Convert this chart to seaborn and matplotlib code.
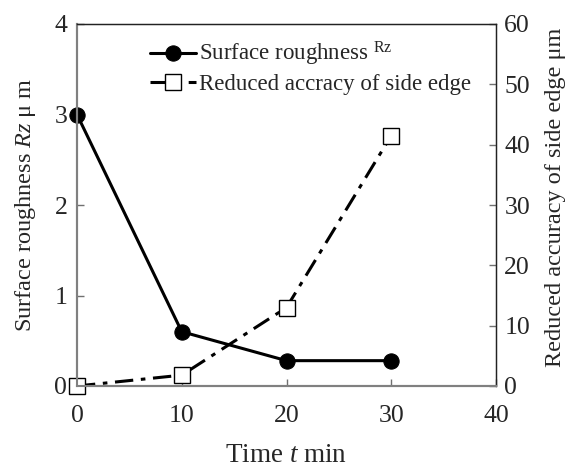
import matplotlib
matplotlib.use("Agg")
import matplotlib.pyplot as plt
import seaborn as sns
import pandas as pd

# Machining time (min)
time_min = [0, 10, 20, 30]
# Surface roughness Rz (um)
roughness_rz = [3.0, 0.6, 0.28, 0.28]
# Reduced accuracy of the side edge (um)
edge_accuracy = [0.0, 1.8, 13.0, 41.5]

x_ticks = [0, 10, 20, 30, 40]
left_ticks = [0, 1, 2, 3, 4]
right_ticks = [0, 10, 20, 30, 40, 50, 60]

sns.set_style("ticks")
plt.rcParams["font.family"] = ["Liberation Serif", "DejaVu Serif"]
plt.rcParams["mathtext.fontset"] = "custom"
plt.rcParams["mathtext.rm"] = "Liberation Serif"
plt.rcParams["mathtext.it"] = "Liberation Serif:italic"

df = pd.DataFrame({"t": time_min, "rz": roughness_rz, "edge": edge_accuracy})

fig = plt.figure(figsize=(5.77, 4.67), dpi=100)
ax = fig.add_axes([77 / 577, 1 - 386 / 467, 419 / 577, 362 / 467])
ax2 = ax.twinx()

sns.lineplot(data=df, x="t", y="rz", ax=ax, color="black", lw=2.2,
             marker="o", markersize=11, markeredgecolor="black",
             label="Surface roughness $^{\\mathrm{Rz}}$", legend=False)
sns.lineplot(data=df, x="t", y="edge", ax=ax2, color="black", lw=2.2,
             linestyle=(0, (6, 2.5, 1.5, 2.5)),
             marker="s", markersize=11, markerfacecolor="white",
             markeredgecolor="black", markeredgewidth=1.0,
             label="Reduced accracy of side edge", legend=False)
for line in ax.lines + ax2.lines:
    line.set_clip_on(False)

ax.set_xlim(0, 40)
ax.set_ylim(0, 4)
ax2.set_ylim(0, 60)
ax.set_xticks(x_ticks)
ax.set_yticks(left_ticks)
ax2.set_yticks(right_ticks)

ax.set_xlabel("Time $\\mathit{t}$ min", fontsize=19.5, labelpad=11)
ax.set_ylabel("Surface roughness $\\mathit{Rz}$ μ m", fontsize=17.5, labelpad=12)
ax2.set_ylabel("Reduced accuracy of side edge μm", fontsize=17.5)
ax2.yaxis.set_label_coords(1.118, 0.52)

for a in (ax, ax2):
    a.tick_params(direction="in", length=5, width=1.0, color="#707070",
                  labelsize=18.5)
ax.tick_params(axis="x", pad=14)
ax.tick_params(axis="y", pad=7)
ax2.tick_params(axis="y", pad=6)
for side in ("left", "bottom"):
    ax.spines[side].set_color("#808080")
    ax2.spines[side].set_color("#808080")
    ax.spines[side].set_linewidth(1.5)
    ax2.spines[side].set_linewidth(1.5)
for side in ("top", "right"):
    ax2.spines[side].set_color("#222222")
    ax2.spines[side].set_linewidth(1.0)

h1, l1 = ax.get_legend_handles_labels()
h2, l2 = ax2.get_legend_handles_labels()
ax2.legend(h1 + h2, l1 + l2, loc="upper left", bbox_to_anchor=(0.137, 1.0),
           frameon=False, fontsize=16.5, handlelength=2.0, handletextpad=0.1,
           labelspacing=0.25, borderaxespad=0.3)

fig.savefig("out.png", dpi=100)
